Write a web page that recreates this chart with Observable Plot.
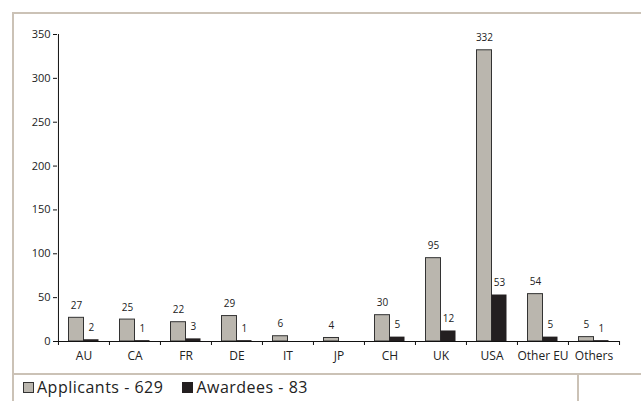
<!DOCTYPE html>
<html>
<head>
<meta charset="utf-8">
<script src="https://cdn.jsdelivr.net/npm/d3@7"></script>
<script src="https://cdn.jsdelivr.net/npm/@observablehq/plot@0.6"></script>
<style>
  html, body { margin: 0; padding: 0; background: #fff; overflow: hidden; }
  #wrap { position: relative; width: 642px; height: 401px; overflow: hidden; font-family: "Open Sans", sans-serif; }
  #chart { position: absolute; left: 0; top: 0; }
  #frame { position: absolute; left: 0; top: 0; }
  #legend { position: absolute; left: 23px; top: 376px; font-size: 16px; letter-spacing: 0.5px; color: #222; display: flex; align-items: center; white-space: nowrap; }
  .sw { display: inline-block; width: 9px; height: 9px; border: 1px solid #333; margin-right: 3px; }
  .item { display: inline-flex; align-items: center; margin-right: 19px; }
</style>
</head>
<body>
<div id="wrap">
  <div id="chart"></div>
  <svg id="frame" width="642" height="401" shape-rendering="crispEdges">
    <g stroke="#cbc2b6" stroke-width="2">
      <line x1="12" y1="13" x2="641" y2="13"></line>
      <line x1="13" y1="12" x2="13" y2="401"></line>
      <line x1="12" y1="374" x2="641" y2="374"></line>
      <line x1="578" y1="374" x2="578" y2="401"></line>
    </g>
  </svg>
  <div id="legend">
    <span class="item"><span class="sw" style="background:#bab6ae"></span>Applicants - 629</span>
    <span class="item"><span class="sw" style="background:#231f20; border-color:#231f20"></span>Awardees - 83</span>
  </div>
</div>
<script>
// Applicants and awardees by country
const countries = ["AU", "CA", "FR", "DE", "IT", "JP", "CH", "UK", "USA", "Other EU", "Others"];
const applicants = [27, 25, 22, 29, 6, 4, 30, 95, 332, 54, 5];
const awardees = [2, 1, 3, 1, 0, 0, 5, 12, 53, 5, 1];
const yTicks = [0, 50, 100, 150, 200, 250, 300, 350];

const rows = countries.map((c, i) => ({country: c, applicants: applicants[i], awardees: awardees[i]}));

const W = 642, H = 372, ML = 57, MR = 23, MT = 34, MB = 31;
const bw = (W - ML - MR) / countries.length;
const half = bw / 2;

const chart = Plot.plot({
  width: W,
  height: H,
  marginLeft: ML,
  marginRight: MR,
  marginTop: MT,
  marginBottom: MB,
  style: {background: "transparent", fontFamily: "Open Sans, sans-serif", fontSize: "11px", color: "#222", overflow: "visible"},
  x: {type: "band", domain: countries, padding: 0, axis: null},
  y: {domain: [0, 350], axis: null},
  marks: [
    Plot.barY(rows, {x: "country", y: "applicants", fill: "#bab6ae", stroke: "#333", strokeWidth: 1, insetLeft: 10.5, insetRight: 25.5}),
    Plot.barY(rows.filter(d => d.awardees > 0), {x: "country", y: "awardees", fill: "#231f20", insetLeft: 25.5, insetRight: 10.5}),
    // y axis: line, ticks and labels
    Plot.ruleX(countries.slice(0, 1), {x: d => d, y1: 0, y2: 350, dx: -half, stroke: "#111"}),
    Plot.ruleY(yTicks, {y: d => d, insetLeft: -4, insetRight: W - ML - MR, stroke: "#111"}),
    Plot.text(yTicks, {y: d => d, frameAnchor: "left", textAnchor: "end", dx: -7, fontSize: 11, fill: "#222"}),
    // x axis line and boundary ticks between categories
    Plot.ruleY([0], {stroke: "#111"}),
    Plot.ruleX(countries, {x: d => d, y1: 0, y2: 0, insetBottom: -4, dx: -half, stroke: "#111"}),
    Plot.ruleX(countries.slice(-1), {x: d => d, y1: 0, y2: 0, insetBottom: -4, dx: half, stroke: "#111"}),
    // category labels
    Plot.text(countries, {x: d => d, y: 0, text: d => d, dy: 15, fontSize: 12, fill: "#222"}),
    // value labels
    Plot.text(rows, {x: "country", y: "applicants", text: d => String(d.applicants), dx: -(half - 18), dy: -12, fontSize: 10, fill: "#222"}),
    Plot.text(rows.filter(d => d.awardees > 0), {x: "country", y: "awardees", text: d => String(d.awardees), dx: 33 - half, dy: -12, fontSize: 10, fill: "#222"})
  ]
});
document.getElementById("chart").appendChild(chart);
</script>
</body>
</html>
